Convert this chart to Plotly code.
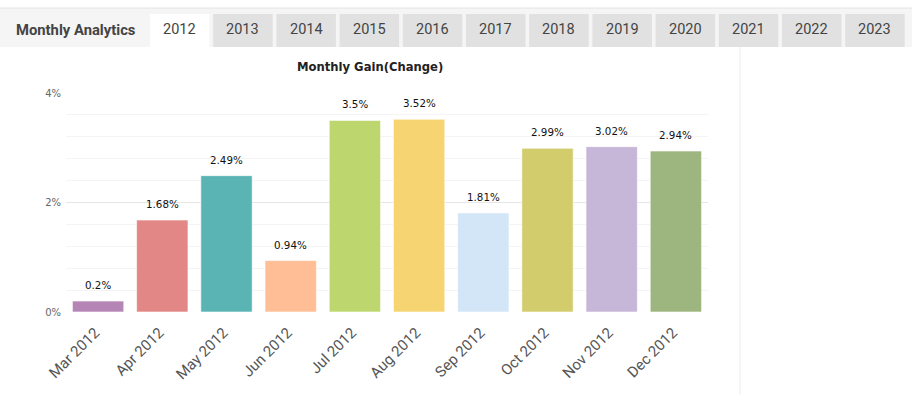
import plotly.graph_objects as go

months = ["Mar 2012", "Apr 2012", "May 2012", "Jun 2012", "Jul 2012",
          "Aug 2012", "Sep 2012", "Oct 2012", "Nov 2012", "Dec 2012"]
gains = [0.2, 1.68, 2.49, 0.94, 3.5, 3.52, 1.81, 2.99, 3.02, 2.94]
bar_colors = ["#b586b5", "#e28785", "#5ab4b4", "#ffbe96", "#bdd76e",
              "#f5d471", "#d2e6f8", "#d2cc6c", "#c6b6d8", "#9db57f"]
years = ["2012", "2013", "2014", "2015", "2016", "2017", "2018",
         "2019", "2020", "2021", "2022", "2023"]
title_text = "Monthly Gain(Change)"
header_text = "Monthly Analytics"

W, H = 912, 395
PL, PR, PT, PB = 66, 708, 93, 312

fig = go.Figure()
fig.add_trace(go.Bar(
    x=months, y=gains,
    marker=dict(color=bar_colors, line=dict(color="rgba(255,255,255,0.6)", width=1)),
    hoverinfo="x+y",
))

for m, v in zip(months, gains):
    fig.add_annotation(x=m, y=v, xref="x", yref="y", text=f"{v}%",
                       showarrow=False, yshift=16,
                       font=dict(family="DejaVu Sans", size=10.3, color="#111"))


def px_to_paper_x(px):
    return (px - PL) / (PR - PL)


def px_to_paper_y(py):
    return (PB - py) / (PB - PT)


shapes = [
    dict(type="rect", xref="paper", yref="paper",
         x0=px_to_paper_x(0), x1=px_to_paper_x(912),
         y0=px_to_paper_y(47), y1=px_to_paper_y(8),
         fillcolor="#f5f5f5", line=dict(width=0), layer="below"),
    dict(type="line", xref="paper", yref="paper",
         x0=px_to_paper_x(0), x1=px_to_paper_x(912),
         y0=px_to_paper_y(8), y1=px_to_paper_y(8),
         line=dict(color="#e4e4e4", width=1)),
    dict(type="line", xref="paper", yref="paper",
         x0=px_to_paper_x(740), x1=px_to_paper_x(740),
         y0=px_to_paper_y(395), y1=px_to_paper_y(47),
         line=dict(color="#ececec", width=1)),
]

annotations = [
    dict(xref="paper", yref="paper", x=px_to_paper_x(14), y=px_to_paper_y(30),
         xanchor="left", yanchor="middle", text=f"<b>{header_text}</b>",
         showarrow=False, font=dict(family="Roboto", size=14.8, color="#444")),
    dict(xref="paper", yref="paper", x=px_to_paper_x(370), y=px_to_paper_y(67),
         xanchor="center", yanchor="middle", text=f"<b>{title_text}</b>",
         showarrow=False, font=dict(family="DejaVu Sans", size=11.6, color="#222")),
]

tab_left = 150
tab_pitch = 63.2
tab_w = 59.5
for i, yr in enumerate(years):
    x0 = tab_left + i * tab_pitch
    x1 = x0 + tab_w
    shapes.append(dict(type="rect", xref="paper", yref="paper",
                       x0=px_to_paper_x(x0), x1=px_to_paper_x(x1),
                       y0=px_to_paper_y(47), y1=px_to_paper_y(14),
                       fillcolor="#ffffff" if i == 0 else "#e1e1e1",
                       line=dict(width=0), layer="below"))
    annotations.append(dict(xref="paper", yref="paper",
                            x=px_to_paper_x((x0 + x1) / 2), y=px_to_paper_y(30),
                            xanchor="center", yanchor="middle", text=yr,
                            showarrow=False,
                            font=dict(family="Roboto", size=14.5, color="#444")))

fig.update_layout(
    width=W, height=H,
    margin=dict(l=PL, r=W - PR, t=PT, b=H - PB, autoexpand=False),
    paper_bgcolor="white", plot_bgcolor="white",
    showlegend=False,
    bargap=0.2,
    shapes=shapes,
    annotations=list(fig.layout.annotations) + annotations,
    xaxis=dict(tickangle=-45, tickfont=dict(family="Roboto", size=15, color="#555"),
               showgrid=False, zeroline=False, showline=False, ticks="",
               ticklabelstandoff=8, ticklabelshift=-3,
               fixedrange=True),
    yaxis=dict(range=[0, 4], dtick=2, ticksuffix="%",
               tickfont=dict(family="DejaVu Sans", size=10, color="#666"),
               showgrid=True, gridcolor="#e6e6e6", gridwidth=1,
               zeroline=False, showline=False,
               minor=dict(dtick=0.4, showgrid=True, gridcolor="#f4f4f4", gridwidth=1),
               ticks="", ticklabelstandoff=4, fixedrange=True),
)

fig.write_html("out.html", config={"displayModeBar": False},
               post_script="document.body.style.margin='0';document.body.style.overflow='hidden';")
